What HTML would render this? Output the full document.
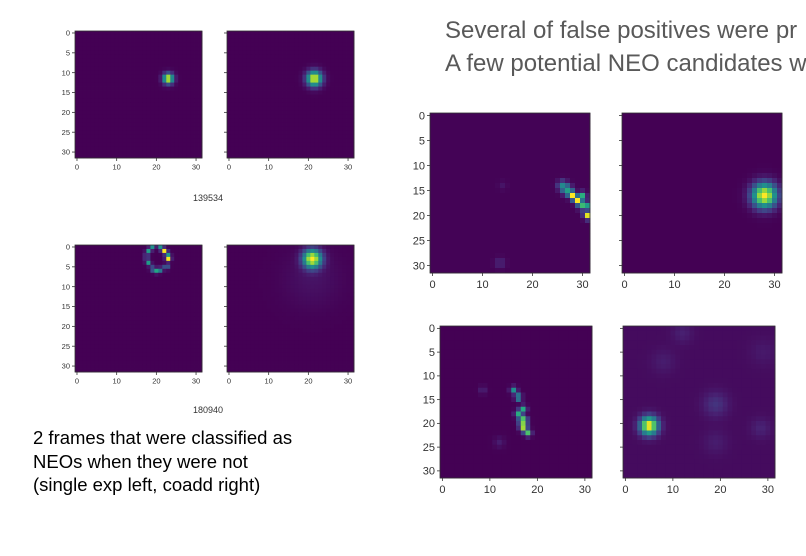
<!DOCTYPE html>
<html><head><meta charset="utf-8">
<style>
html,body{margin:0;padding:0;background:#fff;width:806px;height:556px;overflow:hidden}
svg{display:block}
text{font-family:"Liberation Sans",sans-serif}
</style></head>
<body>
<svg id="s" width="806" height="556" viewBox="0 0 806 556">
<text x="445" y="38" font-size="24" fill="#595959">Several of false positives were pr</text>
<text x="445" y="71" font-size="24" fill="#595959">A few potential NEO candidates w</text>
<text x="208" y="201" font-size="9" fill="#333" text-anchor="middle">139534</text>
<text x="208" y="413" font-size="9" fill="#333" text-anchor="middle">180940</text>
<text x="33" y="444" font-size="18.5" fill="#000">2 frames that were classified as</text>
<text x="33" y="468" font-size="18.5" fill="#000">NEOs when they were not</text>
<text x="33" y="491" font-size="18.5" fill="#000">(single exp left, coadd right)</text>
</svg>
<script>
// Source blobs per panel: [col, row, amplitude, sigma]
const blobs1 = [[23,11.5,1.0,0.9]];
const blobs2 = [[21.5,11.5,1.0,1.3]];
const blobs3 = [[22,1,1.0,0.45],[23,3,0.95,0.45],[18,1,0.55,0.45],[18,4,0.55,0.45],[20,6,0.55,0.45],[19,0,0.5,0.45],[21,0,0.5,0.45],[23,2,0.45,0.45],[22.5,5,0.45,0.45],[19,5.5,0.4,0.45],[17.5,2.5,0.35,0.45],[21,5.8,0.4,0.45]];
const blobs4 = [[21,3,1.0,1.6],[21,8,0.05,5]];
const blobs5 = [[26,14,0.4,0.7],[27,15,0.5,0.7],[28,16,1.0,0.5],[29,17,1.0,0.5],[30,16,0.6,0.5],[30,18,0.6,0.6],[31,20,0.95,0.5],[31,18,0.4,0.5],[13.5,29.5,0.12,0.7],[14,14,0.05,0.6]];
const blobs6 = [[28,16,1.0,1.7]];
const blobs7 = [[15,13,0.5,0.5],[16,14.5,0.6,0.5],[17,17,0.6,0.5],[16,18,0.6,0.5],[17,19.5,1.0,0.6],[17,21,0.8,0.5],[18,22,0.7,0.5],[8.5,13,0.1,0.6],[12,24,0.08,0.8]];
const blobs8 = [[5,20.5,1.0,1.3],[19,16,0.12,1.8],[28.5,21,0.07,1.5],[12,1,0.06,1.5],[8,7,0.05,1.8],[19,24,0.05,1.8],[29,5,0.04,2]];
const yTicks = [0,5,10,15,20,25,30];
const xTicks = [0,10,20,30];

const panels = [
 {name:'panel-139534-single', x:75,  y:31,  s:127, b:blobs1, lab:true,  fs:7.5, bg:0},
 {name:'panel-139534-coadd',  x:227, y:31,  s:127, b:blobs2, lab:false, fs:7.5, bg:0},
 {name:'panel-180940-single', x:75,  y:245, s:127, b:blobs3, lab:true,  fs:7.5, bg:0},
 {name:'panel-180940-coadd',  x:227, y:245, s:127, b:blobs4, lab:false, fs:7.5, bg:0},
 {name:'panel-fp1-single',    x:430, y:113, s:160, b:blobs5, lab:true,  fs:11, bg:0.005},
 {name:'panel-fp1-coadd',     x:622, y:113, s:160, b:blobs6, lab:false, fs:11, bg:0},
 {name:'panel-neo-single',    x:440, y:326, s:152, b:blobs7, lab:true,  fs:11, bg:0},
 {name:'panel-neo-coadd',     x:623, y:326, s:152, b:blobs8, lab:false, fs:11, bg:0.03}
];
const vir=[[68,1,84],[72,35,116],[64,67,135],[52,94,141],[41,120,142],[32,144,140],[34,167,132],[68,190,112],[121,209,81],[189,222,38],[253,231,37]];
function cmap(v){v=Math.max(0,Math.min(1,v));const f=v*10,i=Math.min(9,Math.floor(f)),t=f-i;const a=vir[i],b=vir[i+1];
 return 'rgb('+[0,1,2].map(k=>Math.round(a[k]+(b[k]-a[k])*t)).join(',')+')';}
const NS='http://www.w3.org/2000/svg', svg=document.getElementById('s');
function mk(tag,attrs,parent){const e=document.createElementNS(NS,tag);for(const k in attrs)e.setAttribute(k,attrs[k]);(parent||svg).appendChild(e);return e;}
panels.forEach(p=>{
 const g=mk('g',{});
 
 
 const c=p.s/32;
 const sx=v=>p.x+(v+0.5)*c, sy=v=>p.y+(v+0.5)*c;
 for(let r=0;r<32;r++)for(let q=0;q<32;q++){
  let v=p.bg;
  p.b.forEach(b=>{const d=((q-b[0])**2+(r-b[1])**2)/(2*b[3]*b[3]);v+=b[2]*Math.exp(-d);});
  const cell=mk('rect',{x:p.x+q*c,y:p.y+r*c,width:c+0.4,height:c+0.4,fill:cmap(v)},g);
  
  
 }
 const fr=mk('rect',{x:p.x,y:p.y,width:p.s,height:p.s,fill:'none',stroke:'#333','stroke-width':0.8},g);
 
 
 yTicks.forEach(t=>{
  mk('line',{x1:p.x-3,x2:p.x,y1:sy(t),y2:sy(t),stroke:'#333','stroke-width':0.8},g);
  if(p.lab){const tx=mk('text',{x:p.x-5,y:sy(t)+p.fs*0.35,'font-size':p.fs,fill:'#333','text-anchor':'end'},g);tx.textContent=t;
   
   }
 });
 xTicks.forEach(t=>{
  mk('line',{x1:sx(t),x2:sx(t),y1:p.y+p.s,y2:p.y+p.s+3,stroke:'#333','stroke-width':0.8},g);
  const tx=mk('text',{x:sx(t),y:p.y+p.s+4+p.fs,'font-size':p.fs,fill:'#333','text-anchor':'middle'},g);tx.textContent=t;
  
  
 });
});
</script>
</body></html>
